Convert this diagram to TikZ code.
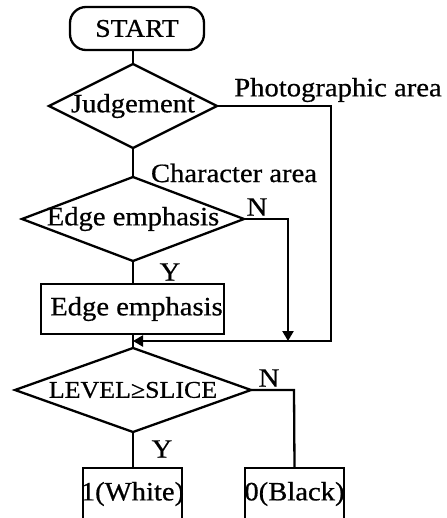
\documentclass[tikz,border=0pt]{standalone}
\usepackage{fontspec}
\setmainfont[FakeStretch=1.08,FakeBold=0.6]{Liberation Serif}
\usetikzlibrary{shapes.geometric,arrows.meta}
\begin{document}
\begin{tikzpicture}[x=1pt,y=-1pt,
  every node/.style={font=\fontsize{26.5}{28}\selectfont, inner sep=0pt, outer sep=0pt},
  flow/.style={line width=2.3pt},
  arr/.style={flow,-{Triangle[width=11pt,length=10pt]}},
  decision/.style={diamond, draw, line width=2.3pt},
  box/.style={rectangle, draw, line width=2.3pt},
  terminal/.style={box, rounded corners=16pt}]
\clip (0,0) rectangle (446,518);

% main column
\node[terminal, minimum width=134pt, minimum height=43pt] (start) at (137,28.5) {\fontsize{25.5}{27}\selectfont START};
\node[decision, minimum width=168pt, minimum height=84pt] (judge) at (133,106) {\makebox[0pt]{Judgement}};
\node[decision, minimum width=222pt, minimum height=84pt] (edgeq) at (133,219) {\makebox[0pt]{Edge emphasis}};
\node[box, minimum width=183pt, minimum height=50pt] (edgebox) at (132.5,309) {\makebox[0pt]{\hspace{8pt}Edge emphasis}};
\coordinate (join) at (133,341);
\node[decision, minimum width=236pt, minimum height=84pt] (level) at (133,390) {\makebox[0pt]{\fontsize{24}{26}\selectfont LEVEL≥SLICE}};
\node[box, minimum width=99pt, minimum height=52pt] (white) at (132.5,494) {\makebox[0pt]{1(White)}};
\node[box, minimum width=99pt, minimum height=52pt] (black) at (294.5,494) {\makebox[0pt]{0(Black)}};

% bend points of the side branches
\coordinate (photoR) at (331,106);
\coordinate (edgeN) at (288,219);
\coordinate (levelN) at (294,390);

% connectors
\draw[flow] (start.south -| judge.north) -- (judge.north);
\draw[flow] (judge.south) -- (edgeq.north);
\draw[flow] (edgeq.south) -- (edgeq.south |- edgebox.north);
\draw[flow] (edgeq.south |- edgebox.south) -- (level.north);
\draw[arr] (judge.east) -- (photoR) -- (photoR |- join) -- (join);
\draw[arr] (edgeq.east) -- (edgeN) -- (edgeN |- join);
\draw[flow] (level.south) -- (level.south |- white.north);
\draw[flow] (level.east) -- (levelN) -- (black.north);

% branch labels
\node (lphoto) at (338,90) {Photographic area};
\node (lchar) at (234,173) {Character area};
\node (ln1) at (257,207) {N};
\node (ly1) at (170,272) {Y};
\node (ln2) at (269,378) {N};
\node (ly2) at (162,449) {Y};
\end{tikzpicture}
\end{document}
